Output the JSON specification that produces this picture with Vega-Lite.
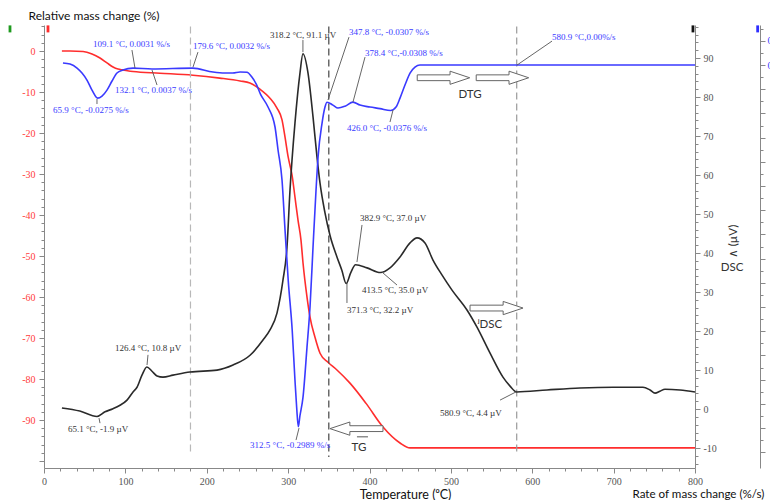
{
  "$schema": "https://vega.github.io/schema/vega-lite/v6.json",
  "width": 651,
  "height": 443,
  "autosize": {"type": "none"},
  "padding": {"left": 44, "top": 25, "right": 75, "bottom": 32},
  "background": "white",
  "config": {"view": {"stroke": null}, "axis": {"grid": false, "labelOverlap": false, "labelFlush": false, "tickCount": 1000}},
  "datasets": {
    "tg": [
      {"T": 22, "v": 0}, {"T": 32, "v": 0}, {"T": 48, "v": -0.1}, {"T": 59, "v": -0.7}, {"T": 68.8, "v": -1.7}, {"T": 77.4, "v": -2.9}, {"T": 84.8, "v": -3.9}, {"T": 90.9, "v": -4.4}, {"T": 97, "v": -4.6}, {"T": 109.4, "v": -5.0}, {"T": 142.5, "v": -5.4}, {"T": 183, "v": -5.9}, {"T": 216, "v": -6.6}, {"T": 241, "v": -7.3}, {"T": 253, "v": -7.8}, {"T": 265.4, "v": -9.3}, {"T": 277.7, "v": -11.5}, {"T": 286.3, "v": -13.9}, {"T": 292.5, "v": -16.8}, {"T": 296.2, "v": -21.0}, {"T": 300.1, "v": -25.9}, {"T": 305, "v": -30.5}, {"T": 308.4, "v": -35.6}, {"T": 312.1, "v": -41.2}, {"T": 315.8, "v": -46.1}, {"T": 318.3, "v": -51.7}, {"T": 323.2, "v": -60.0}, {"T": 326.9, "v": -64.9}, {"T": 333, "v": -69.8}, {"T": 339.2, "v": -73.7}, {"T": 349, "v": -75.9}, {"T": 360, "v": -77.8}, {"T": 376, "v": -81.0}, {"T": 396, "v": -86.0}, {"T": 416.6, "v": -91.7}, {"T": 437.5, "v": -95.6}, {"T": 449.8, "v": -96.8}, {"T": 800, "v": -96.8}
    ],
    "dsc": [
      {"T": 22, "v": 0.3}, {"T": 44, "v": -0.5}, {"T": 65.1, "v": -1.9}, {"T": 75, "v": -0.7}, {"T": 84.8, "v": 0.1}, {"T": 93.4, "v": 1.0}, {"T": 102, "v": 2.3}, {"T": 109.4, "v": 4.4}, {"T": 114.3, "v": 5.6}, {"T": 120.4, "v": 8.7}, {"T": 126.4, "v": 10.8}, {"T": 132.7, "v": 9.7}, {"T": 138.9, "v": 8.5}, {"T": 146.2, "v": 8.2}, {"T": 158.5, "v": 8.7}, {"T": 179.4, "v": 9.5}, {"T": 212.6, "v": 10.0}, {"T": 232.3, "v": 11.3}, {"T": 253.2, "v": 13.8}, {"T": 269.1, "v": 17.7}, {"T": 277.7, "v": 20.3}, {"T": 286.3, "v": 24.6}, {"T": 293.7, "v": 33.1}, {"T": 298.6, "v": 41.5}, {"T": 302.3, "v": 56.1}, {"T": 308.4, "v": 73.3}, {"T": 314.6, "v": 86.2}, {"T": 318.2, "v": 91.1}, {"T": 324.4, "v": 86.2}, {"T": 330.6, "v": 74.9}, {"T": 335.5, "v": 64.6}, {"T": 339.2, "v": 57.9}, {"T": 345.3, "v": 50.3}, {"T": 351.5, "v": 44.5}, {"T": 360, "v": 39.0}, {"T": 366, "v": 35.6}, {"T": 371.3, "v": 32.2}, {"T": 377, "v": 35.0}, {"T": 382.9, "v": 37.0}, {"T": 397, "v": 36.2}, {"T": 413.5, "v": 35.0}, {"T": 425.2, "v": 36.2}, {"T": 437.5, "v": 39.0}, {"T": 449.8, "v": 42.6}, {"T": 458.4, "v": 43.9}, {"T": 468.2, "v": 42.6}, {"T": 478, "v": 38.2}, {"T": 489, "v": 34.4}, {"T": 501.4, "v": 30.5}, {"T": 519.8, "v": 25.4}, {"T": 532.1, "v": 21.0}, {"T": 548, "v": 14.4}, {"T": 564, "v": 8.2}, {"T": 572.7, "v": 5.9}, {"T": 580.9, "v": 4.4}, {"T": 618.1, "v": 4.9}, {"T": 658.7, "v": 5.4}, {"T": 699.2, "v": 5.6}, {"T": 736, "v": 5.6}, {"T": 744.7, "v": 4.9}, {"T": 750.9, "v": 4.1}, {"T": 757, "v": 4.6}, {"T": 763.1, "v": 5.1}, {"T": 781.6, "v": 4.9}, {"T": 800, "v": 4.4}
    ],
    "dtg": [
      {"T": 23.3, "v": 0.0017}, {"T": 32, "v": 0.0008}, {"T": 40.6, "v": -0.0025}, {"T": 46.7, "v": -0.0066}, {"T": 52.8, "v": -0.0124}, {"T": 59, "v": -0.0207}, {"T": 65.9, "v": -0.0273}, {"T": 71.3, "v": -0.0256}, {"T": 77.4, "v": -0.0207}, {"T": 83.6, "v": -0.0132}, {"T": 89.7, "v": -0.0066}, {"T": 97, "v": -0.0041}, {"T": 109.4, "v": -0.0025}, {"T": 132.7, "v": -0.0033}, {"T": 183, "v": -0.0025}, {"T": 207.7, "v": -0.0058}, {"T": 222, "v": -0.0066}, {"T": 232, "v": -0.0066}, {"T": 240.9, "v": -0.0058}, {"T": 249.5, "v": -0.006}, {"T": 255, "v": -0.0095}, {"T": 261, "v": -0.016}, {"T": 266, "v": -0.024}, {"T": 275.3, "v": -0.0347}, {"T": 283.9, "v": -0.0512}, {"T": 287.6, "v": -0.0702}, {"T": 292.5, "v": -0.095}, {"T": 296.2, "v": -0.1364}, {"T": 300.1, "v": -0.1777}, {"T": 305, "v": -0.219}, {"T": 308.4, "v": -0.2603}, {"T": 310.5, "v": -0.283}, {"T": 312.5, "v": -0.2989}, {"T": 314.5, "v": -0.29}, {"T": 318.3, "v": -0.2744}, {"T": 323.2, "v": -0.2331}, {"T": 326.9, "v": -0.2}, {"T": 330.6, "v": -0.1504}, {"T": 334.3, "v": -0.1033}, {"T": 336.8, "v": -0.076}, {"T": 341.7, "v": -0.0479}, {"T": 345.3, "v": -0.0347}, {"T": 347.8, "v": -0.0307}, {"T": 355.1, "v": -0.0331}, {"T": 361.3, "v": -0.0355}, {"T": 369.9, "v": -0.034}, {"T": 379.7, "v": -0.0306}, {"T": 388.3, "v": -0.0331}, {"T": 400.6, "v": -0.0347}, {"T": 412.9, "v": -0.036}, {"T": 426, "v": -0.0376}, {"T": 432.6, "v": -0.0347}, {"T": 437.5, "v": -0.0273}, {"T": 443.6, "v": -0.0165}, {"T": 449.8, "v": -0.0066}, {"T": 455.9, "v": -0.0017}, {"T": 462, "v": 0}, {"T": 800, "v": 0}
    ],
    "vlines": [
      {"T": 180, "v1": 6, "v2": -98.6, "kind": "a"},
      {"T": 350, "v1": 6, "v2": -99.0, "kind": "b"},
      {"T": 580.9, "v1": 6, "v2": -98.6, "kind": "c"}
    ],
    "markers": [
      {"T": -41.8, "v": 5.4, "axis": "g"}, {"T": 4.9, "v": 5.4, "axis": "r"}, {"T": 797.5, "v": 5.4, "axis": "k"}, {"T": 877, "v": 5.4, "axis": "bl"}
    ],
    "dtgLabels": [
      {"T": 60.2, "v": 0.0174, "label": "109.1 °C, 0.0031 %/s"},
      {"T": 183.1, "v": 0.0157, "label": "179.6 °C, 0.0032 %/s"},
      {"T": 87.2, "v": -0.0207, "label": "132.1 °C, 0.0037 %/s"},
      {"T": 11.1, "v": -0.0372, "label": "65.9 °C, -0.0275 %/s"},
      {"T": 374.8, "v": 0.0273, "label": "347.8 °C, -0.0307 %/s"},
      {"T": 394.5, "v": 0.0099, "label": "378.4 °C,-0.0308 %/s"},
      {"T": 372.3, "v": -0.0521, "label": "426.0 °C, -0.0376 %/s"},
      {"T": 624.3, "v": 0.0231, "label": "580.9 °C,0.00%/s"},
      {"T": 253.2, "v": -0.314, "label": "312.5 °C, -0.2989 %/s"}
    ],
    "dtgLeaders": [
      {"T1": 108.1, "v1": 0.0124, "T2": 111.8, "v2": -0.0025},
      {"T1": 183.1, "v1": -0.0017, "T2": 189.2, "v2": 0.0107},
      {"T1": 132.7, "v1": -0.0041, "T2": 138.9, "v2": -0.0165},
      {"T1": 65.1, "v1": -0.0281, "T2": 65.1, "v2": -0.0322},
      {"T1": 374.8, "v1": 0.0231, "T2": 349, "v2": -0.0289},
      {"T1": 394.5, "v1": 0.0066, "T2": 379.7, "v2": -0.0306},
      {"T1": 425.2, "v1": -0.0471, "T2": 428.9, "v2": -0.0372},
      {"T1": 624.3, "v1": 0.0198, "T2": 581.3, "v2": 0},
      {"T1": 309.7, "v1": -0.3099, "T2": 313.4, "v2": -0.3}
    ],
    "dscLabels": [
      {"T": 277.7, "v": 95.9, "label": "318.2 °C, 91.1 µV"},
      {"T": 87.2, "v": 15.6, "label": "126.4 °C, 10.8 µV"},
      {"T": 29.5, "v": -5.1, "label": "65.1 °C, -1.9 µV"},
      {"T": 388.3, "v": 48.9, "label": "382.9 °C, 37.0 µV"},
      {"T": 390.8, "v": 30.5, "label": "413.5 °C, 35.0 µV"},
      {"T": 372.3, "v": 25.4, "label": "371.3 °C, 32.2 µV"},
      {"T": 486.6, "v": -1.0, "label": "580.9 °C, 4.4 µV"}
    ],
    "dscLeaders": [
      {"T1": 318.2, "v1": 94.6, "T2": 318.2, "v2": 91.5},
      {"T1": 127.8, "v1": 13.9, "T2": 126.6, "v2": 11.3},
      {"T1": 67.6, "v1": -2.3, "T2": 68.8, "v2": -3.6},
      {"T1": 390.8, "v1": 47.2, "T2": 384.6, "v2": 37.7},
      {"T1": 415.4, "v1": 35.1, "T2": 433.8, "v2": 31.8},
      {"T1": 372.3, "v1": 32.3, "T2": 372.3, "v2": 27.2},
      {"T1": 560.4, "v1": 2.3, "T2": 580, "v2": 4.4}
    ]
  },
  "layer": [
    {
      "layer": [
        {
          "data": {"name": "tg"},
          "mark": {"type": "line", "color": "#ff2d2d", "strokeWidth": 1.6, "interpolate": "monotone"},
          "encoding": {
            "x": {"field": "T", "type": "quantitative", "scale": {"domain": [0, 800], "nice": false, "zero": false},
              "axis": {
                "values": [0,20,40,60,80,100,120,140,160,180,200,220,240,260,280,300,320,340,360,380,400,420,440,460,480,500,520,540,560,580,600,620,640,660,680,700,720,740,760,780,800],
                "tickCount": 1000,
                "labelExpr": "datum.value % 100 === 0 ? datum.value + '' : ''",
                "tickSize": {"condition": {"test": "datum.value % 100 === 0", "value": 5}, "value": 3},
                "domainColor": "#888", "tickColor": "#888",
                "labelColor": "#555", "labelFont": "Liberation Serif", "labelFontSize": 10, "labelPadding": 3,
                "title": "Temperature (⁰C)", "titleX": 361, "titleY": 30, "titleAlign": "center", "titleBaseline": "alphabetic",
                "titleFont": "Lato", "titleFontSize": 12.5, "titleFontWeight": "normal", "titleColor": "#111"
              }},
            "y": {"field": "v", "type": "quantitative", "scale": {"domain": [-101.7, 6.35], "nice": false, "zero": false},
              "axis": {
                "orient": "left",
                "values": [-100,-98,-96,-94,-92,-90,-88,-86,-84,-82,-80,-78,-76,-74,-72,-70,-68,-66,-64,-62,-60,-58,-56,-54,-52,-50,-48,-46,-44,-42,-40,-38,-36,-34,-32,-30,-28,-26,-24,-22,-20,-18,-16,-14,-12,-10,-8,-6,-4,-2,0,2,4,6],
                "tickCount": 1000,
                "labelExpr": "datum.value % 10 === 0 && datum.value >= -90 && datum.value <= 0 ? datum.value + '' : ''",
                "tickSize": {"condition": {"test": "datum.value % 10 === 0", "value": 5}, "value": 3},
                "domainColor": "#888", "tickColor": "#888",
                "labelColor": "#ff3b3b", "labelFont": "Liberation Serif", "labelFontSize": 10, "labelPadding": 4,
                "title": "Relative mass change (%)", "titleAngle": 0, "titleAlign": "left", "titleBaseline": "alphabetic",
                "titleX": -16, "titleY": -6, "titleFont": "Lato", "titleFontSize": 12, "titleFontWeight": "normal", "titleColor": "#111"
              }}
          }
        },
        {
          "data": {"name": "vlines"},
          "mark": {"type": "rule", "strokeDash": [7, 4], "strokeWidth": 1.2},
          "encoding": {
            "x": {"field": "T", "type": "quantitative", "scale": {"domain": [0, 800], "nice": false, "zero": false}},
            "y": {"field": "v1", "type": "quantitative", "scale": {"domain": [-101.7, 6.35], "nice": false, "zero": false}},
            "y2": {"field": "v2"},
            "stroke": {"field": "kind", "type": "nominal", "scale": {"domain": ["a", "b", "c"], "range": ["#b8b8b8", "#444444", "#9a9a9a"]}, "legend": null}
          }
        },
        {
          "data": {"values": [{"T": 384, "v": -92.1}]},
          "mark": {"type": "point", "shape": "M1,-0.11L-0.25,-0.11L-0.25,-0.25L-1,0L-0.25,0.25L-0.25,0.11L1,0.11Z", "size": 2809, "filled": true, "fill": "white", "stroke": "#666", "strokeWidth": 1, "opacity": 1},
          "encoding": {
            "x": {"field": "T", "type": "quantitative", "scale": {"domain": [0, 800], "nice": false, "zero": false}},
            "y": {"field": "v", "type": "quantitative", "scale": {"domain": [-101.7, 6.35], "nice": false, "zero": false}}
          }
        },
        {
          "data": {"values": [{"T": 387.1, "v": -96.8, "label": "TG"}]},
          "mark": {"type": "text", "font": "Lato", "fontSize": 11.5, "color": "#333", "align": "center", "baseline": "middle"},
          "encoding": {
            "x": {"field": "T", "type": "quantitative", "scale": {"domain": [0, 800], "nice": false, "zero": false}},
            "y": {"field": "v", "type": "quantitative", "scale": {"domain": [-101.7, 6.35], "nice": false, "zero": false}},
            "text": {"field": "label"}
          }
        },
        {
          "data": {"values": [{"T1": 384.6, "T2": 398.1, "v": -94.1}]},
          "mark": {"type": "rule", "color": "#555", "strokeWidth": 1},
          "encoding": {
            "x": {"field": "T1", "type": "quantitative", "scale": {"domain": [0, 800], "nice": false, "zero": false}},
            "x2": {"field": "T2"},
            "y": {"field": "v", "type": "quantitative", "scale": {"domain": [-101.7, 6.35], "nice": false, "zero": false}}
          }
        },
        {
          "data": {"name": "markers"},
          "mark": {"type": "point", "shape": "M-0.4,-1L0.4,-1L0.4,1L-0.4,1Z", "size": 49, "filled": true, "opacity": 1, "strokeWidth": 0},
          "encoding": {
            "x": {"field": "T", "type": "quantitative", "scale": {"domain": [0, 800], "nice": false, "zero": false}},
            "y": {"field": "v", "type": "quantitative", "scale": {"domain": [-101.7, 6.35], "nice": false, "zero": false}},
            "fill": {"field": "axis", "type": "nominal", "scale": {"domain": ["g", "r", "k", "bl"], "range": ["#1f9a1f", "#ff2d2d", "#111111", "#2f2fff"]}, "legend": null}
          }
        }
      ]
    },
    {
      "layer": [
        {
          "data": {"name": "dsc"},
          "mark": {"type": "line", "color": "#2a2a2a", "strokeWidth": 1.6, "interpolate": "monotone"},
          "encoding": {
            "x": {"field": "T", "type": "quantitative", "scale": {"domain": [0, 800], "nice": false, "zero": false}},
            "y": {"field": "v", "type": "quantitative", "scale": {"domain": [-15.1, 98.46], "nice": false, "zero": false},
              "axis": {
                "orient": "right",
                "values": [-14,-12,-10,-8,-6,-4,-2,0,2,4,6,8,10,12,14,16,18,20,22,24,26,28,30,32,34,36,38,40,42,44,46,48,50,52,54,56,58,60,62,64,66,68,70,72,74,76,78,80,82,84,86,88,90,92,94,96,98],
                "tickCount": 1000,
                "labelExpr": "datum.value % 10 === 0 && datum.value >= -10 && datum.value <= 90 ? datum.value + '' : ''",
                "tickSize": {"condition": {"test": "datum.value % 10 === 0", "value": 5}, "value": 3},
                "domainColor": "#888", "tickColor": "#888",
                "labelColor": "#555", "labelFont": "Liberation Serif", "labelFontSize": 10, "labelPadding": 3,
                "title": "∧ (µV)", "titleAngle": 270, "titleX": 38, "titleY": 216, "titleAlign": "center", "titleBaseline": "middle",
                "titleFont": "Lato", "titleFontSize": 11.5, "titleFontWeight": "normal", "titleColor": "#333"
              }}
          }
        },
        {
          "data": {"name": "dscLeaders"},
          "mark": {"type": "rule", "color": "#555", "strokeWidth": 0.9},
          "encoding": {
            "x": {"field": "T1", "type": "quantitative", "scale": {"domain": [0, 800], "nice": false, "zero": false}},
            "x2": {"field": "T2"},
            "y": {"field": "v1", "type": "quantitative", "scale": {"domain": [-15.1, 98.46], "nice": false, "zero": false}},
            "y2": {"field": "v2"}
          }
        },
        {
          "data": {"name": "dscLabels"},
          "mark": {"type": "text", "font": "Liberation Serif", "fontSize": 9, "color": "#333", "align": "left", "baseline": "middle"},
          "encoding": {
            "x": {"field": "T", "type": "quantitative", "scale": {"domain": [0, 800], "nice": false, "zero": false}},
            "y": {"field": "v", "type": "quantitative", "scale": {"domain": [-15.1, 98.46], "nice": false, "zero": false}},
            "text": {"field": "label"}
          }
        },
        {
          "data": {"values": [{"T": 556.1, "v": 25.9}]},
          "mark": {"type": "point", "shape": "M-1,-0.11L0.25,-0.11L0.25,-0.25L1,0L0.25,0.25L0.25,0.11L-1,0.11Z", "size": 2809, "filled": true, "fill": "white", "stroke": "#666", "strokeWidth": 1, "opacity": 1},
          "encoding": {
            "x": {"field": "T", "type": "quantitative", "scale": {"domain": [0, 800], "nice": false, "zero": false}},
            "y": {"field": "v", "type": "quantitative", "scale": {"domain": [-15.1, 98.46], "nice": false, "zero": false}}
          }
        },
        {
          "data": {"values": [{"T": 548, "v": 21.5, "label": "ʲDSC"}, {"T": 845.5, "v": 36.2, "label": "DSC"}]},
          "mark": {"type": "text", "font": "Lato", "fontSize": 11.5, "color": "#333", "align": "center", "baseline": "middle"},
          "encoding": {
            "x": {"field": "T", "type": "quantitative", "scale": {"domain": [0, 800], "nice": false, "zero": false}},
            "y": {"field": "v", "type": "quantitative", "scale": {"domain": [-15.1, 98.46], "nice": false, "zero": false}},
            "text": {"field": "label"}
          }
        }
      ]
    },
    {
      "layer": [
        {
          "data": {"name": "dtg"},
          "mark": {"type": "line", "color": "#3a3aff", "strokeWidth": 1.6, "interpolate": "monotone"},
          "encoding": {
            "x": {"field": "T", "type": "quantitative", "scale": {"domain": [0, 800], "nice": false, "zero": false}},
            "y": {"field": "v", "type": "quantitative", "scale": {"domain": [-0.333, 0.0331], "nice": false, "zero": false},
              "axis": {
                "orient": "right", "offset": 65,
                "values": [-0.32,-0.31,-0.3,-0.29,-0.28,-0.27,-0.26,-0.25,-0.24,-0.23,-0.22,-0.21,-0.2,-0.19,-0.18,-0.17,-0.16,-0.15,-0.14,-0.13,-0.12,-0.11,-0.1,-0.09,-0.08,-0.07,-0.06,-0.05,-0.04,-0.03,-0.02,-0.01,0,0.01,0.02,0.03],
                "tickCount": 1000,
                "labelExpr": "datum.value > -0.001 && abs(round(datum.value * 100)) % 2 === 0 ? format(datum.value, '.2f') : ''",
                "tickSize": {"condition": {"test": "abs(round(datum.value * 100)) % 2 === 0", "value": 5}, "value": 3},
                "domainColor": "#888", "tickColor": "#888",
                "labelColor": "#3a3aff", "labelFont": "Liberation Serif", "labelFontSize": 10, "labelPadding": 2,
                "title": "Rate of mass change (%/s)", "titleAngle": 0, "titleX": -128, "titleY": 472, "titleAlign": "left", "titleBaseline": "alphabetic",
                "titleFont": "Lato", "titleFontSize": 11.6, "titleFontWeight": "normal", "titleColor": "#111"
              }}
          }
        },
        {
          "data": {"name": "dtgLeaders"},
          "mark": {"type": "rule", "color": "#555", "strokeWidth": 0.9},
          "encoding": {
            "x": {"field": "T1", "type": "quantitative", "scale": {"domain": [0, 800], "nice": false, "zero": false}},
            "x2": {"field": "T2"},
            "y": {"field": "v1", "type": "quantitative", "scale": {"domain": [-0.333, 0.0331], "nice": false, "zero": false}},
            "y2": {"field": "v2"}
          }
        },
        {
          "data": {"name": "dtgLabels"},
          "mark": {"type": "text", "font": "Liberation Serif", "fontSize": 9, "color": "#3a3aff", "align": "left", "baseline": "middle"},
          "encoding": {
            "x": {"field": "T", "type": "quantitative", "scale": {"domain": [0, 800], "nice": false, "zero": false}},
            "y": {"field": "v", "type": "quantitative", "scale": {"domain": [-0.333, 0.0331], "nice": false, "zero": false}},
            "text": {"field": "label"}
          }
        },
        {
          "data": {"values": [{"T": 490.9, "v": -0.0105}, {"T": 563.4, "v": -0.0105}]},
          "mark": {"type": "point", "shape": "M-1,-0.11L0.25,-0.11L0.25,-0.25L1,0L0.25,0.25L0.25,0.11L-1,0.11Z", "size": 2756, "filled": true, "fill": "white", "stroke": "#666", "strokeWidth": 1, "opacity": 1},
          "encoding": {
            "x": {"field": "T", "type": "quantitative", "scale": {"domain": [0, 800], "nice": false, "zero": false}},
            "y": {"field": "v", "type": "quantitative", "scale": {"domain": [-0.333, 0.0331], "nice": false, "zero": false}}
          }
        },
        {
          "data": {"values": [{"T": 523.5, "v": -0.0248, "label": "DTG"}]},
          "mark": {"type": "text", "font": "Lato", "fontSize": 11.5, "color": "#333", "align": "center", "baseline": "middle"},
          "encoding": {
            "x": {"field": "T", "type": "quantitative", "scale": {"domain": [0, 800], "nice": false, "zero": false}},
            "y": {"field": "v", "type": "quantitative", "scale": {"domain": [-0.333, 0.0331], "nice": false, "zero": false}},
            "text": {"field": "label"}
          }
        }
      ]
    }
  ],
  "resolve": {"scale": {"y": "independent"}, "axis": {"y": "independent"}}
}
